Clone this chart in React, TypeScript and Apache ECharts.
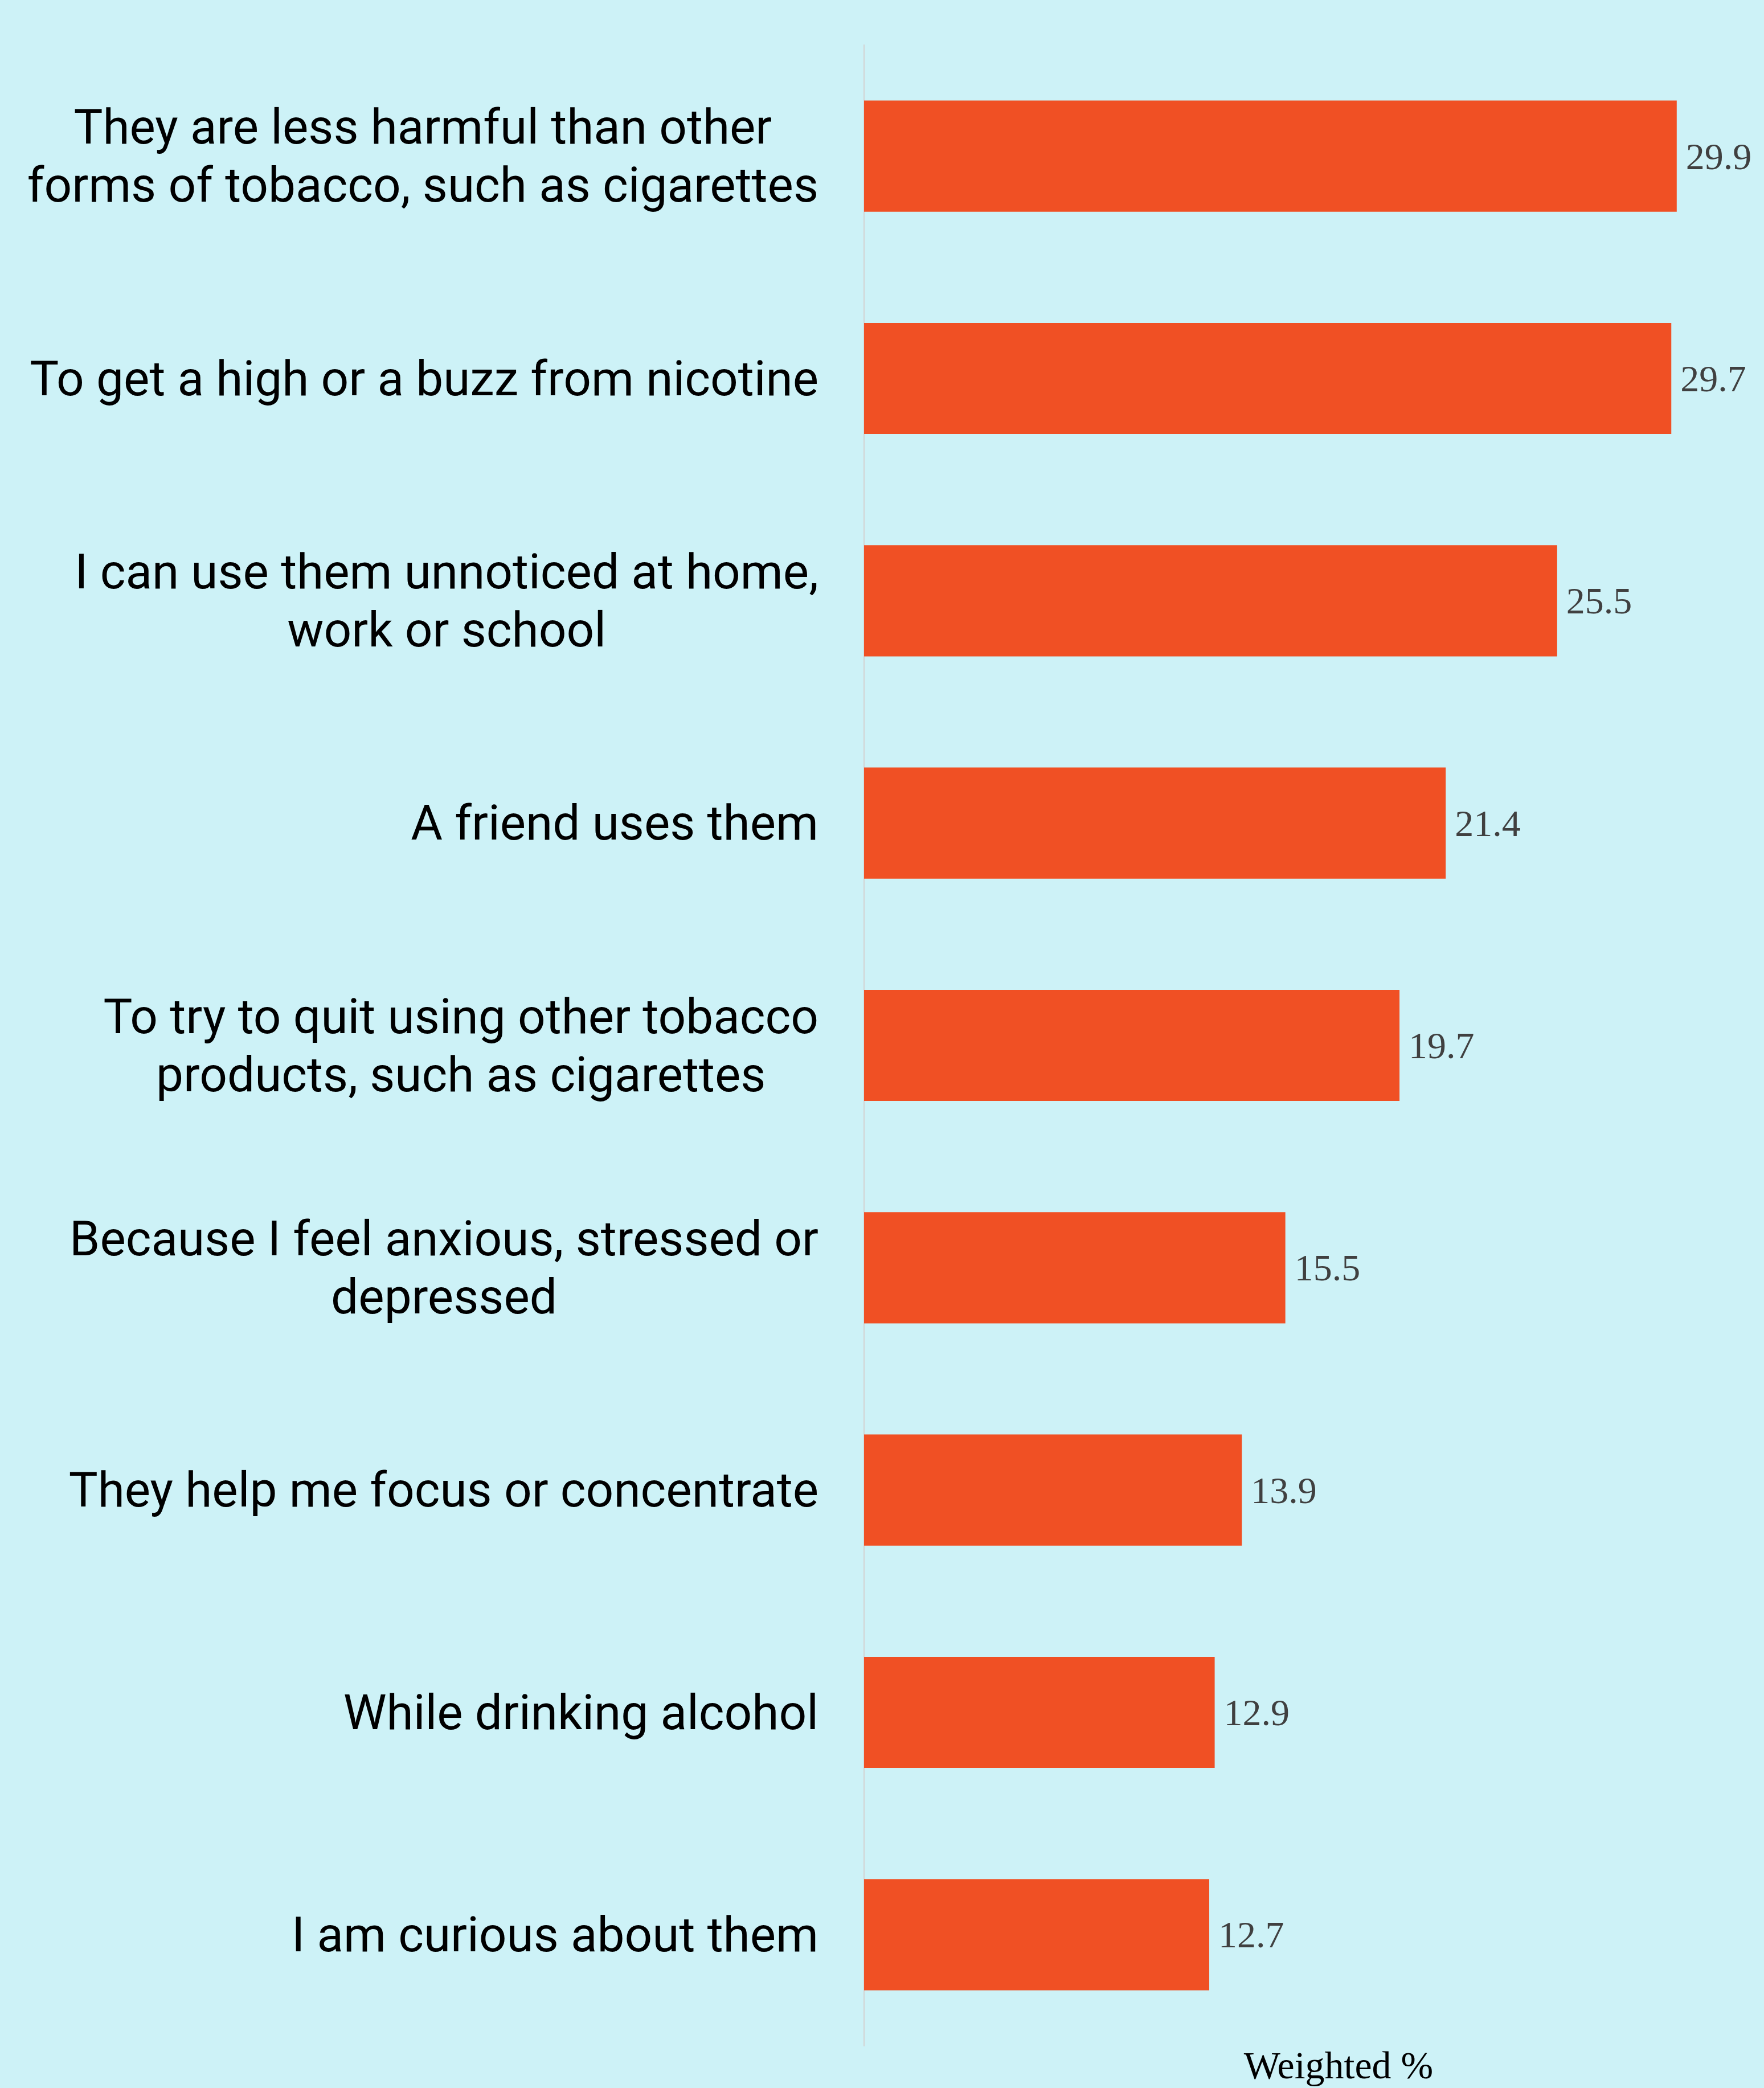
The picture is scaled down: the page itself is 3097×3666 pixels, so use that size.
import React, { useEffect, useRef } from "react";
import * as echarts from "echarts";

const categories: string[] = [
  "They are less harmful than other\nforms of tobacco, such as cigarettes",
  "To get a high or a buzz from nicotine",
  "I can use them unnoticed at home,\nwork or school",
  "A friend uses them",
  "To try to quit using other tobacco\nproducts, such as cigarettes",
  "Because I feel anxious, stressed or\ndepressed",
  "They help me focus or concentrate",
  "While drinking alcohol",
  "I am curious about them",
];

const values: number[] = [29.9, 29.7, 25.5, 21.4, 19.7, 15.5, 13.9, 12.9, 12.7];

const axisTitle = "Weighted %";

export default function App() {
  const ref = useRef<HTMLDivElement>(null);

  useEffect(() => {
    document.body.style.margin = "0";
    document.body.style.background = "#CDF2F7";
    if (!ref.current) return;
    const chart = echarts.init(ref.current, undefined, { renderer: "svg" });
    chart.setOption({
      animation: false,
      backgroundColor: "#CDF2F7",
      grid: { left: 1517, right: 53, top: 79, bottom: 74, containLabel: false },
      xAxis: {
        type: "value",
        min: 0,
        max: 32,
        show: false,
      },
      yAxis: {
        type: "category",
        data: categories,
        inverse: true,
        axisLine: { show: true, lineStyle: { color: "#D3D3D3", width: 2 } },
        axisTick: { show: false },
        splitLine: { show: false },
        axisLabel: {
          margin: 80,
          align: "right",
          formatter: (v: string) =>
            v
              .split("\n")
              .map((l) => `{c|${l}}`)
              .join("\n"),
          rich: {
            c: {
              align: "center",
              fontFamily: "Roboto",
              fontSize: 85.5,
              lineHeight: 102,
              color: "#000000",
            },
          },
        },
      },
      series: [
        {
          type: "bar",
          data: values,
          barWidth: "50%",
          itemStyle: { color: "#F05024" },
          label: {
            show: true,
            position: "right",
            distance: 16,
            fontFamily: "Liberation Serif",
            fontSize: 66,
            color: "#404040",
            formatter: (p: any) => p.value.toFixed(1),
          },
        },
      ],
      graphic: [
        {
          type: "text",
          x: 2350,
          y: 3626,
          style: {
            text: axisTitle,
            fontFamily: "Liberation Serif",
            fontSize: 68,
            fill: "#000000",
            textAlign: "center",
            textVerticalAlign: "middle",
          },
        },
      ],
    });
    return () => chart.dispose();
  }, []);

  return <div ref={ref} style={{ width: 3097, height: 3666 }} />;
}
